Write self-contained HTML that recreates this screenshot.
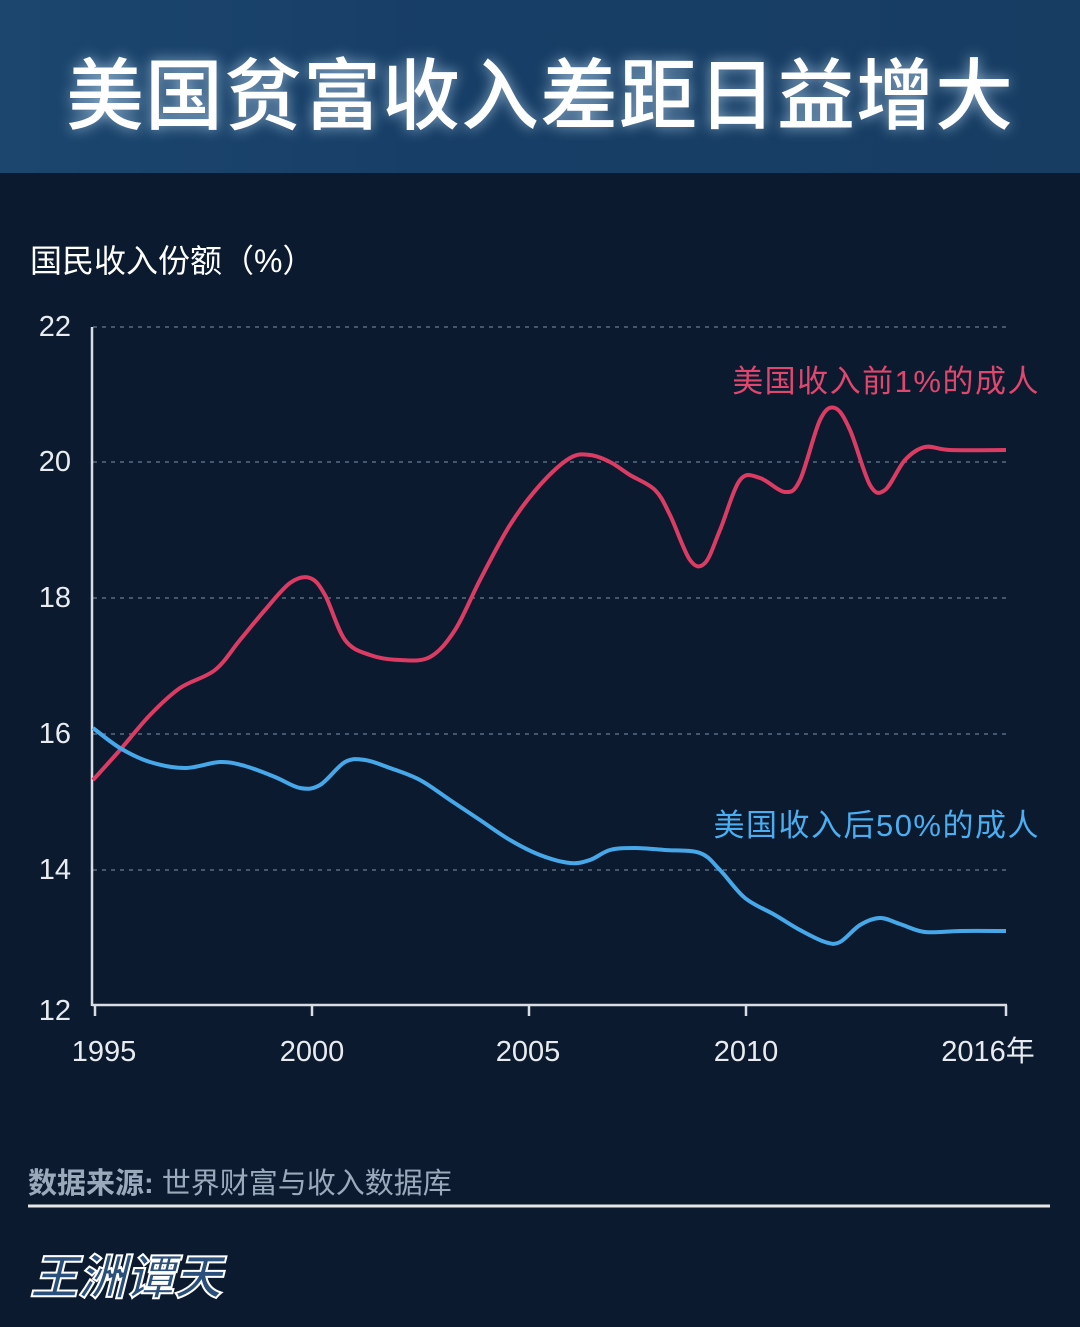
<!DOCTYPE html><html><head><meta charset="utf-8"><style>
body{margin:0;width:1080px;height:1327px;background:#0b1a2f;overflow:hidden;font-family:"Liberation Sans","Noto Sans CJK SC",sans-serif;position:relative}
.hdr{position:absolute;left:0;top:0;width:1080px;height:173px;background:linear-gradient(90deg,#1c466e,#173e66 40%,#173d63);}
.title{position:absolute;left:0;width:1080px;top:34px;text-align:center;color:#fff;font-size:78px;font-weight:500;letter-spacing:1px;text-shadow:0 0 14px rgba(200,230,255,.7)}
.t{position:absolute;color:#fff;white-space:nowrap}
</style></head><body>
<div class="hdr"></div>
<div class="title">美国贫富收入差距日益增大</div>
<div class="t" style="left:30px;top:236px;font-size:32px">国民收入份额（%）</div>
<svg width="1080" height="1327" style="position:absolute;left:0;top:0">
<g stroke="#5a6a80" stroke-dasharray="4,5" stroke-width="1.5">
<line x1="93" x2="1006" y1="327" y2="327"/><line x1="93" x2="1006" y1="462" y2="462"/><line x1="93" x2="1006" y1="598" y2="598"/><line x1="93" x2="1006" y1="734" y2="734"/><line x1="93" x2="1006" y1="870" y2="870"/></g>
<g stroke="#d8dde4" stroke-width="2.5" fill="none"><line x1="92" y1="327" x2="92" y2="1006"/><line x1="92" y1="1005" x2="1007" y2="1005"/>
<line x1="95" y1="1005" x2="95" y2="1016"/><line x1="312" y1="1005" x2="312" y2="1016"/><line x1="529" y1="1005" x2="529" y2="1016"/><line x1="746" y1="1005" x2="746" y2="1016"/><line x1="1006" y1="1005" x2="1006" y2="1016"/></g>
<g fill="#e8ecf0" font-size="29" font-family="Liberation Sans,sans-serif">
<text x="71" y="336" text-anchor="end">22</text><text x="71" y="471" text-anchor="end">20</text><text x="71" y="607" text-anchor="end">18</text><text x="71" y="743" text-anchor="end">16</text><text x="71" y="879" text-anchor="end">14</text><text x="71" y="1020" text-anchor="end">12</text>
<text x="104" y="1061" text-anchor="middle">1995</text><text x="312" y="1061" text-anchor="middle">2000</text><text x="528" y="1061" text-anchor="middle">2005</text><text x="746" y="1061" text-anchor="middle">2010</text><text x="988" y="1061" text-anchor="middle" font-family="Liberation Sans,Noto Sans CJK SC,sans-serif">2016年</text></g>
<path id="r" fill="none" stroke="#dc3c64" stroke-width="4"/>
<path id="b" fill="none" stroke="#46a8e8" stroke-width="4"/>
<text x="1040" y="392" text-anchor="end" fill="#e0466e" font-size="31" letter-spacing="1.5" font-family="Liberation Sans,Noto Sans CJK SC,sans-serif">美国收入前1%的成人</text>
<text x="1040" y="836" text-anchor="end" fill="#4aaef0" font-size="31" letter-spacing="1.5" font-family="Liberation Sans,Noto Sans CJK SC,sans-serif">美国收入后50%的成人</text>
<line x1="28" y1="1206" x2="1050" y2="1206" stroke="#e6e6e6" stroke-width="3"/>
</svg>
<div class="t" style="left:28px;top:1160px;font-size:29px;color:#9aaabb"><b>数据来源:</b> 世界财富与收入数据库</div>
<div class="t" style="left:30px;top:1238px;font-size:48px;font-weight:bold;font-style:italic;color:#2a4f7a;-webkit-text-stroke:2px #fff;">王洲谭天</div>
<script>
function sm(p){let d="M"+p[0];for(let i=0;i<p.length-1;i++){const a=p[i-1]||p[i],b=p[i],c=p[i+1],e=p[i+2]||c;d+=" C"+(b[0]+(c[0]-a[0])/6)+","+(b[1]+(c[1]-a[1])/6)+" "+(c[0]-(e[0]-b[0])/6)+","+(c[1]-(e[1]-b[1])/6)+" "+c;}return d}
const R=[[93,780],[120,750],[150,715],[180,688],[215,670],[240,640],[265,610],[290,583],[310,578],[325,595],[345,640],[370,655],[400,660],[430,657],[455,630],[480,580],[510,525],[540,485],[570,458],[590,455],[610,462],[630,475],[655,490],[670,515],[690,560],[705,563],[720,530],[740,480],[760,478],[785,492],[800,480],[820,420],[835,408],[850,430],[870,485],[885,490],[905,460],[925,447],[950,450],[1006,450]];
const B=[[93,728],[120,748],[150,762],[185,768],[220,762],[245,766],[275,777],[300,788],[320,785],[345,762],[365,760],[390,768],[420,780],[450,800],[480,820],[510,840],[540,855],[570,863],[590,860],[610,850],[635,848],[665,850],[700,853],[720,870],[745,898],[775,915],[800,930],[825,942],[840,942],[860,925],[880,918],[900,924],[925,932],[960,931],[1006,931]];
document.getElementById("r").setAttribute("d",sm(R));document.getElementById("b").setAttribute("d",sm(B));
</script>
</body></html>
